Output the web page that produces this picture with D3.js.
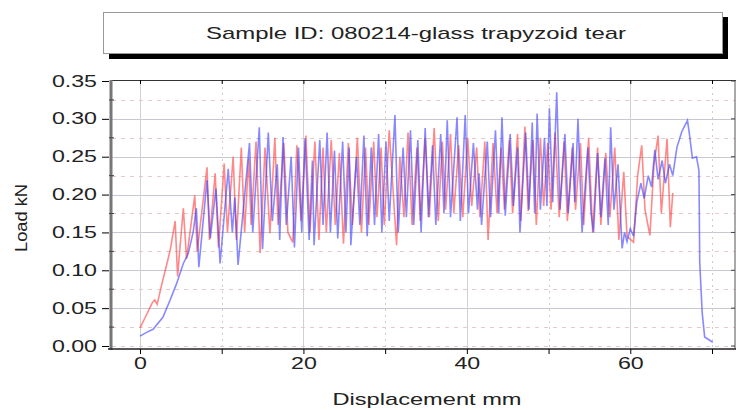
<!DOCTYPE html>
<html><head><meta charset="utf-8">
<script src="https://cdn.jsdelivr.net/npm/d3@7"></script>
<style>body{margin:0;background:#fff}svg{display:block}text{font-family:"Liberation Sans",Arial,sans-serif;fill:#222}</style>
</head><body><svg id="c" width="736" height="410"></svg>
<script>
const titleText = "Sample ID: 080214-glass trapyzoid tear";
const xLabel = "Displacement mm";
const yLabel = "Load kN";
const xTicks = [0,10,20,30,40,50,60,70];
const xTickLabels = ["0","","20","","40","","60",""];
const yTicks = [0,0.05,0.10,0.15,0.20,0.25,0.30,0.35];
const yTickLabels = ["0.00","0.05","0.10","0.15","0.20","0.25","0.30","0.35"];

const blueX = [0,0.8,1.6,2.8,3.7,4.5,5.3,5.9,6.5,6.9,7.2,8.2,8.6,9.3,9.8,10.8,11.3,11.6,12.0,13.4,13.8,14.6,15.0,15.7,16.2,16.8,17.1,17.5,17.9,18.5,18.9,19.4,19.8,20.2,20.7,21.1,21.3,22.0,22.4,22.9,23.3,23.8,24.2,24.8,25.2,25.6,25.8,26.5,26.9,27.4,27.8,28.3,28.7,29.2,29.6,30.1,30.5,31.2,31.6,32.2,32.6,33.1,33.5,34.0,34.4,34.9,35.3,35.8,36.2,36.8,37.2,37.6,38.0,38.8,39.2,39.8,40.2,40.8,41.3,41.5,41.8,42.5,42.9,43.5,43.9,44.3,44.7,45.3,45.7,46.2,46.5,47.2,47.6,48.0,48.3,48.6,49.0,49.5,49.8,50.1,50.5,51.0,51.4,52.0,52.4,53.0,53.2,53.6,54.1,54.8,55.2,55.5,56.0,56.4,56.9,57.3,57.6,58.0,58.5,59.0,59.3,59.6,60.0,60.4,60.8,61.3,61.7,62.2,62.6,63.0,63.4,63.9,64.3,64.8,65.2,65.7,66.3,67.0,67.3,67.6,68.1,68.4,68.5,68.8,69.1,70.1];
const blueY = [0.013,0.018,0.022,0.038,0.061,0.083,0.109,0.122,0.150,0.182,0.104,0.219,0.142,0.208,0.109,0.234,0.150,0.196,0.107,0.268,0.150,0.289,0.128,0.282,0.165,0.240,0.140,0.276,0.160,0.250,0.130,0.262,0.150,0.274,0.140,0.245,0.133,0.272,0.160,0.282,0.150,0.258,0.142,0.270,0.150,0.262,0.133,0.250,0.160,0.278,0.145,0.262,0.160,0.280,0.150,0.270,0.165,0.305,0.150,0.262,0.170,0.285,0.160,0.272,0.150,0.288,0.170,0.265,0.160,0.280,0.175,0.298,0.170,0.302,0.165,0.305,0.175,0.268,0.180,0.228,0.160,0.270,0.170,0.285,0.175,0.302,0.172,0.280,0.185,0.262,0.150,0.282,0.180,0.295,0.175,0.307,0.180,0.275,0.185,0.314,0.190,0.335,0.180,0.280,0.175,0.268,0.190,0.300,0.150,0.262,0.175,0.150,0.255,0.170,0.248,0.160,0.289,0.180,0.240,0.129,0.150,0.138,0.155,0.145,0.190,0.215,0.195,0.225,0.210,0.259,0.220,0.245,0.215,0.240,0.225,0.262,0.283,0.298,0.275,0.248,0.250,0.232,0.110,0.044,0.012,0.005];

const redX = [0,0.6,1.5,1.8,2.1,2.7,3.3,3.7,4.3,4.6,5.3,5.7,6.7,7.0,8.2,8.5,9.2,9.6,10.3,10.7,11.4,11.8,12.4,12.8,13.3,13.6,14.2,14.7,15.3,15.9,16.5,16.9,17.6,18.1,18.7,19.2,19.7,20.3,20.8,21.4,21.9,22.4,22.8,23.4,23.9,24.4,24.9,25.5,26.0,26.6,27.1,27.6,28.0,28.6,29.0,29.5,29.9,30.5,31.4,31.8,32.3,32.8,33.3,33.9,34.3,34.9,35.4,36.0,36.5,37.0,37.4,38.0,38.4,39.0,39.5,40.1,40.6,41.2,41.6,42.2,42.6,43.2,43.7,44.2,44.6,45.2,45.6,46.2,46.6,47.1,47.5,48.1,48.5,49.0,49.4,49.9,50.3,50.8,51.3,51.9,52.3,52.9,53.3,53.9,54.3,54.9,55.4,56.0,56.4,57.0,57.5,58.1,58.6,59.2,59.6,60.4,60.9,61.4,61.8,62.4,62.9,63.4,63.8,64.5,64.9,65.2];
const redY = [0.024,0.037,0.057,0.061,0.055,0.083,0.109,0.127,0.165,0.092,0.182,0.115,0.199,0.125,0.236,0.140,0.228,0.130,0.241,0.150,0.250,0.140,0.262,0.150,0.248,0.160,0.270,0.123,0.262,0.149,0.275,0.160,0.268,0.150,0.137,0.265,0.165,0.278,0.150,0.270,0.140,0.262,0.150,0.272,0.160,0.255,0.135,0.268,0.160,0.275,0.150,0.262,0.160,0.270,0.170,0.262,0.160,0.285,0.133,0.250,0.170,0.282,0.160,0.262,0.165,0.275,0.170,0.288,0.165,0.270,0.180,0.280,0.175,0.265,0.170,0.275,0.185,0.262,0.170,0.270,0.140,0.268,0.175,0.262,0.180,0.272,0.175,0.280,0.165,0.290,0.178,0.272,0.160,0.275,0.185,0.268,0.180,0.282,0.170,0.270,0.165,0.262,0.180,0.268,0.160,0.275,0.150,0.262,0.160,0.255,0.170,0.262,0.140,0.230,0.145,0.137,0.225,0.265,0.180,0.146,0.240,0.278,0.175,0.274,0.157,0.202];

const svg = d3.select("#c");
const x = d3.scaleLinear().domain([0,70]).range([140,712]);
const y = d3.scaleLinear().domain([0,0.35]).range([346,81]);
const SX = 1.45;

// title box
svg.append("rect").attr("x",109).attr("y",17).attr("width",619).attr("height",42).attr("fill","#000");
svg.append("rect").attr("x",103.5).attr("y",12.5).attr("width",619).attr("height",41).attr("fill","#fff").attr("stroke","#999").attr("stroke-width",1);
svg.append("text").attr("x",416).attr("y",39).attr("text-anchor","middle").attr("font-size",17)
  .attr("textLength",420).attr("lengthAdjust","spacingAndGlyphs").text(titleText);

// grid
const g = svg.append("g");
const minorY = d3.range(0,0.35,0.025);
g.selectAll(".hg").data(minorY).join("line")
  .attr("x1",112).attr("x2",735).attr("y1",d=>Math.round(y(d))+0.5).attr("y2",d=>Math.round(y(d))+0.5)
  .attr("stroke",(d,i)=> i%2===0 && i>0 ? "#c8c8d0" : "#e2caca")
  .attr("stroke-dasharray",(d,i)=> i%2===0 && i>0 ? null : "4,5").attr("stroke-width",1);
g.selectAll(".vg").data(xTicks).join("line")
  .attr("y1",81).attr("y2",348).attr("x1",d=>Math.round(x(d))+0.5).attr("x2",d=>Math.round(x(d))+0.5)
  .attr("stroke",(d,i)=> i%2===0 ? "#d0d0d0" : "#dcc8c8")
  .attr("stroke-dasharray",(d,i)=> i%2===0 ? null : "2,4");

// data lines
const line = d3.line().x(d=>x(d[0])).y(d=>y(d[1]));
const red = redX.map((v,i)=>[v,redY[i]]);
const blue = blueX.map((v,i)=>[v,blueY[i]]);
svg.append("path").datum(red).attr("d",line).attr("fill","none").attr("stroke","#ff3a3a").attr("stroke-width",1.6).attr("stroke-opacity",0.6);
svg.append("path").datum(blue).attr("d",line).attr("fill","none").attr("stroke","#3a3aff").attr("stroke-width",1.6).attr("stroke-opacity",0.6);

// frame
svg.append("line").attr("x1",111).attr("x2",736).attr("y1",80.5).attr("y2",80.5).attr("stroke","#333").attr("stroke-width",1.2);
svg.append("line").attr("x1",735).attr("x2",735).attr("y1",80).attr("y2",349).attr("stroke","#555");
svg.append("line").attr("x1",111).attr("x2",111).attr("y1",80).attr("y2",350).attr("stroke","#777").attr("stroke-width",3);

// bottom axis
const xa = svg.append("g").attr("transform","translate(0,349)")
  .call(d3.axisBottom(x).tickValues(xTicks).tickFormat((d,i)=>xTickLabels[i]).tickSize(5).tickSizeOuter(0));
xa.select(".domain").attr("d","M108,0H736").attr("stroke","#222").attr("stroke-width",1.6);
xa.selectAll("text").attr("font-size",16).attr("font-family","Liberation Sans, Arial, sans-serif")
  .attr("fill","#222").attr("y",9).attr("transform",`scale(${SX},1)`);
// top axis ticks
svg.append("g").attr("transform","translate(0,80)")
  .call(d3.axisBottom(x).tickValues(xTicks).tickFormat("").tickSize(4).tickSizeOuter(0))
  .select(".domain").remove();

// left axis
const ya = svg.append("g").attr("transform","translate(109,0)")
  .call(d3.axisLeft(y).tickValues(yTicks).tickFormat((d,i)=>yTickLabels[i]).tickSize(7).tickSizeOuter(0));
ya.select(".domain").remove();
ya.selectAll("text").attr("font-size",16).attr("font-family","Liberation Sans, Arial, sans-serif")
  .attr("fill","#222").attr("x",-12/SX).attr("transform",`scale(${SX},1)`);
// minor y ticks
svg.selectAll(".my").data(d3.range(0.025,0.35,0.05)).join("line")
  .attr("x1",109).attr("x2",114).attr("y1",d=>y(d)).attr("y2",d=>y(d)).attr("stroke","#444");
// right axis ticks
svg.selectAll(".ry").data(yTicks).join("line")
  .attr("x1",731).attr("x2",735).attr("y1",d=>y(d)).attr("y2",d=>y(d)).attr("stroke","#444");

// axis titles
svg.append("text").attr("x",427).attr("y",405).attr("text-anchor","middle").attr("font-size",17)
  .attr("textLength",189).attr("lengthAdjust","spacingAndGlyphs").text(xLabel);
svg.append("text").attr("transform","translate(27,218) rotate(-90)").attr("text-anchor","middle").attr("font-size",16)
  .attr("textLength",68).attr("lengthAdjust","spacingAndGlyphs").text(yLabel);
</script></body></html>
